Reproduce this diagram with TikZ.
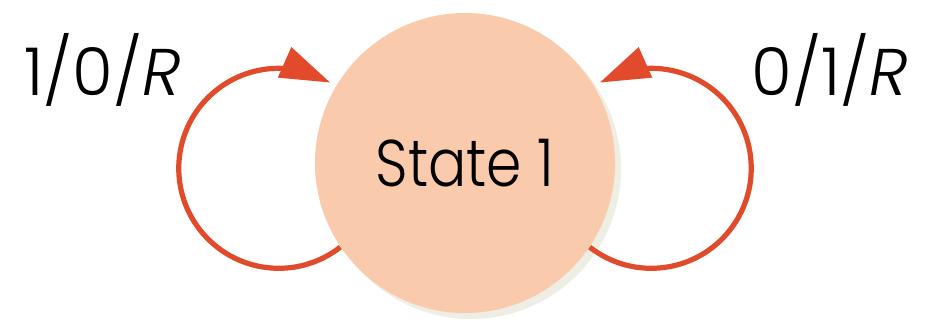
\documentclass[tikz,border=0pt]{standalone}
\usepackage{fontspec}
\setmainfont{Poppins}[UprightFont=* Light, ItalicFont=* Light Italic]
\newfontfamily\statefont{Poppins}[UprightFont=* Light, FakeStretch=0.86]
\usetikzlibrary{arrows.meta,bending,shadows}
\definecolor{peach}{HTML}{F9CAAB}
\definecolor{loopred}{HTML}{E14B2B}
\begin{document}
\begin{tikzpicture}[x=.5pt, y=-.5pt,
	statenode/.style={circle, fill=peach, minimum size=150pt, inner sep=0pt,
		drop shadow={shadow xshift=3pt, shadow yshift=-3pt, fill=black!50!olive!40, opacity=.25},
		font=\statefont\fontsize{33}{36}\selectfont},
	loopline/.style={draw=loopred, line width=2.6pt, -{Triangle[flex=.5, length=25pt, width=16pt]}},
	lbl/.style={font=\fontsize{33}{36}\selectfont, inner sep=0pt}]
	\useasboundingbox (0,0) rectangle (932,329);
	\node[statenode] (s1) at (465,163) {State 1};
	\node[lbl] (lblL) at (103,70) {1/0/\textit{R}};
	\node[lbl] (lblR) at (830,70) {0/1/\textit{R}};
	%Schleifen
	\draw[loopline] (s1.214) arc[start angle=52, end angle=301, radius=100];
	\draw[loopline] (s1.-34) arc[start angle=128, end angle=-121, radius=100];
\end{tikzpicture}
\end{document}
